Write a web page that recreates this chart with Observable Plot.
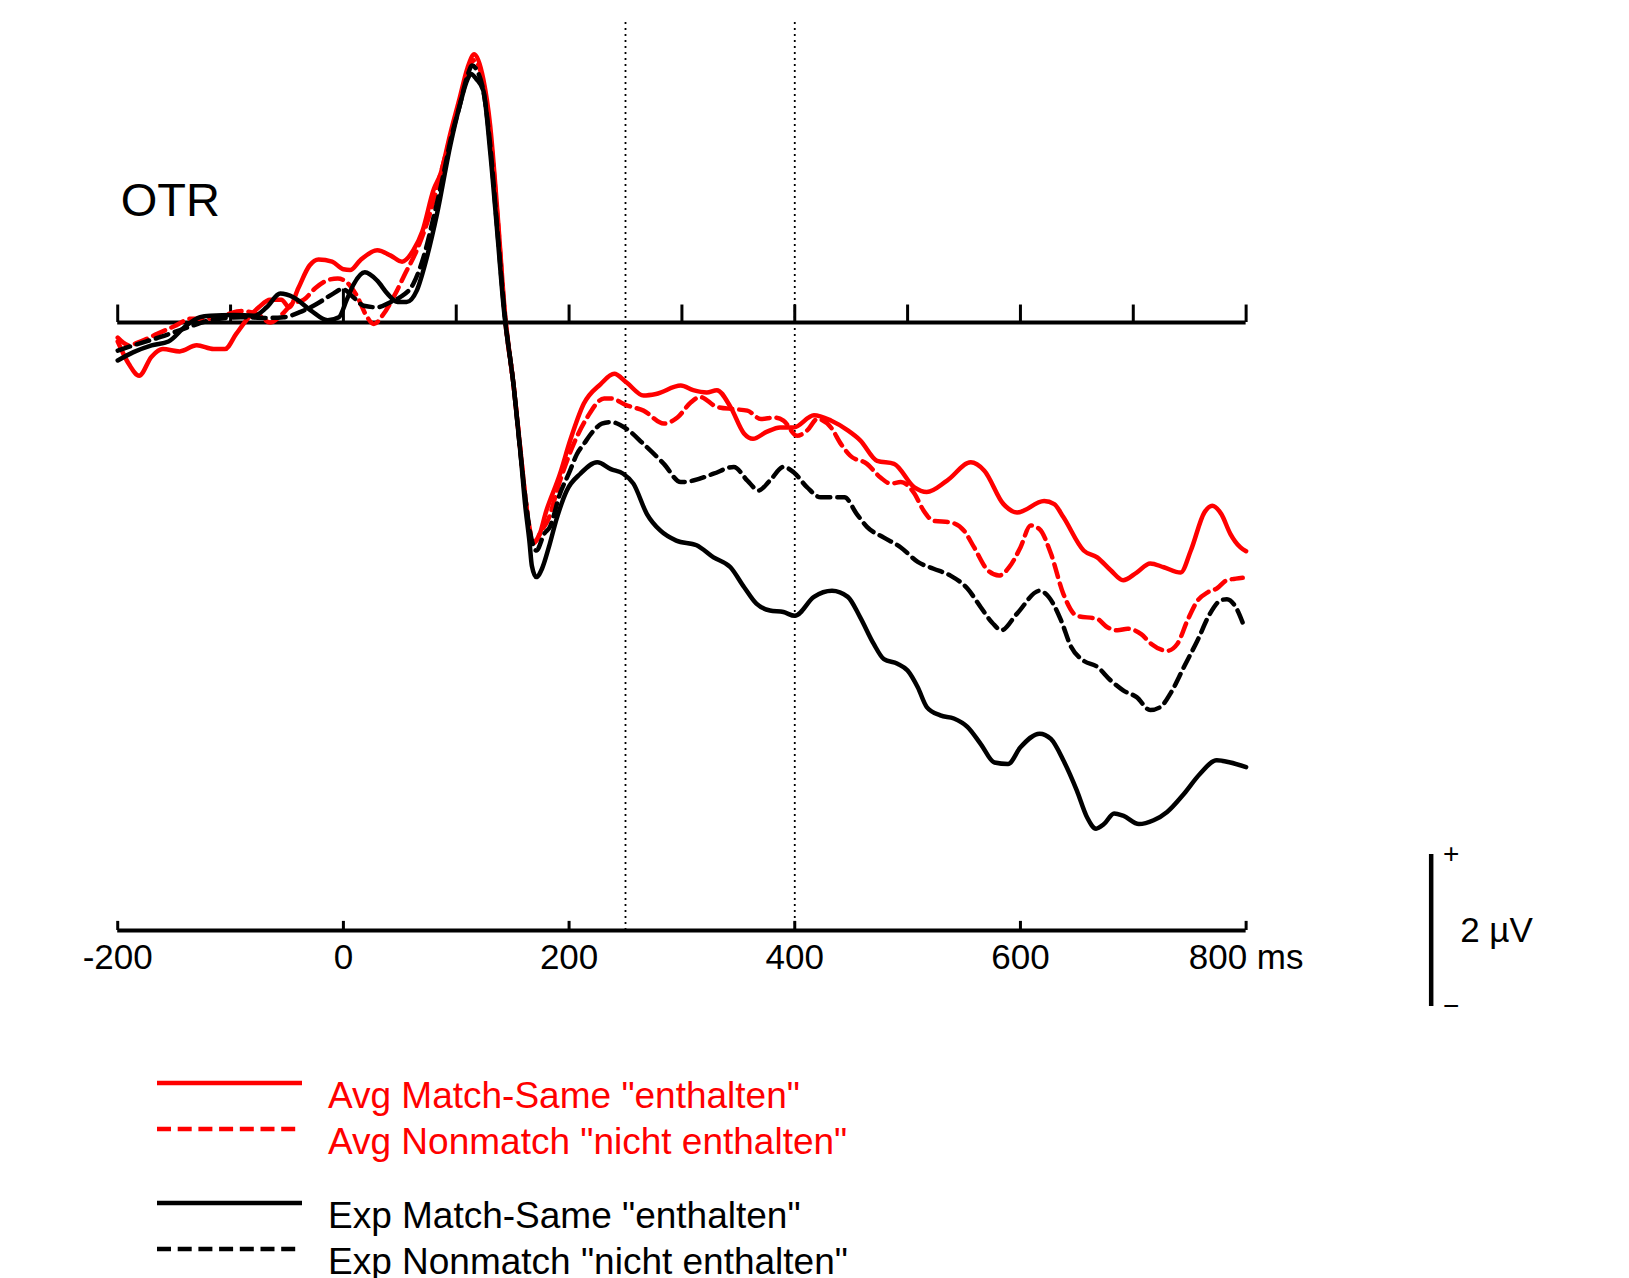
<!DOCTYPE html>
<html><head><meta charset="utf-8">
<script src="https://cdn.jsdelivr.net/npm/d3@7"></script>
<script src="https://cdn.jsdelivr.net/npm/@observablehq/plot@0.6"></script>
<style>
body{margin:0;background:#fff;font-family:"Liberation Sans",Arial,sans-serif;}
#chart svg,#legend svg{display:block}
</style></head><body>
<div id="chart"></div>
<div id="legend"></div>
<script>
// ---------- data (ms, µV) ----------
const avgMatchMs = [-200,-190,-181,-170,-160,-145,-130,-115,-105,-95,-85,-75,-65,-55,-48,-40,-30,-22,-10,0,6,15,30,42,52,62,70,80,86,95,103,110,116,124,130,137,143,151,157,162,167,172,180,192,201,213,228,240,251,266,277,299,310,322,331,343,355,363,375,387,399,417,432,447,458,473,488,506,517,535,556,568,585,597,621,630,638,656,668,680,691,703,715,727,742,751,763,770,778,786,795,800];
const avgMatchUv = [-0.25,-0.55,-0.70,-0.45,-0.35,-0.38,-0.30,-0.35,-0.35,-0.15,0.05,0.2,0.3,0.3,0.2,0.45,0.75,0.83,0.8,0.70,0.69,0.82,0.95,0.88,0.80,0.95,1.2,1.75,1.95,2.5,2.95,3.35,3.53,3.2,2.6,1.35,0.15,-0.85,-1.7,-2.4,-2.89,-2.85,-2.47,-1.99,-1.55,-1.07,-0.81,-0.675,-0.79,-0.96,-0.94,-0.83,-0.89,-0.92,-0.89,-1.11,-1.46,-1.53,-1.44,-1.38,-1.38,-1.22,-1.29,-1.42,-1.55,-1.82,-1.86,-2.17,-2.23,-2.08,-1.84,-1.95,-2.39,-2.50,-2.35,-2.39,-2.56,-3.00,-3.09,-3.26,-3.39,-3.29,-3.17,-3.22,-3.29,-3.00,-2.50,-2.41,-2.52,-2.78,-2.96,-3.01];

const avgNonMs = [-200,-190,-180,-165,-150,-135,-120,-105,-90,-75,-65,-55,-45,-35,-25,-15,-5,5,12,20,27,35,45,55,65,75,86,95,103,110,116,124,130,137,143,151,157,162,169,175,181,192,204,216,231,237,251,266,284,296,308,316,331,346,358,370,382,390,402,411,420,432,441,449,464,476,485,494,506,514,523,538,550,559,571,581,590,600,609,617,627,638,650,668,677,686,695,707,716,730,739,748,757,766,774,783,791,797];
const avgNonUv = [-0.2,-0.3,-0.25,-0.15,-0.05,0.05,0.05,0.1,0.15,0.1,0.0,0.1,0.25,0.3,0.45,0.55,0.58,0.5,0.35,0.1,-0.02,0.1,0.35,0.65,0.95,1.35,1.95,2.45,2.9,3.3,3.45,3.15,2.5,1.3,0.1,-0.85,-1.7,-2.4,-2.9,-2.75,-2.61,-2.08,-1.60,-1.25,-1.00,-1.00,-1.09,-1.16,-1.33,-1.25,-1.05,-0.98,-1.11,-1.14,-1.16,-1.27,-1.25,-1.29,-1.49,-1.42,-1.27,-1.38,-1.60,-1.75,-1.86,-2.04,-2.12,-2.10,-2.25,-2.47,-2.61,-2.63,-2.74,-2.96,-3.26,-3.33,-3.22,-2.96,-2.67,-2.72,-3.04,-3.57,-3.86,-3.90,-4.01,-4.05,-4.03,-4.10,-4.23,-4.32,-4.23,-3.92,-3.66,-3.55,-3.50,-3.39,-3.37,-3.36];

const expMatchMs = [-200,-186,-170,-155,-140,-127,-118,-97,-79,-68,-56,-44,-29,-14,-4,3,9,19,30,39,48,56,65,74,83,95,103,110,113,118,124,130,136,142,151,157,161,165,167,171,176,182,189,198,210,225,237,248,257,269,281,295,313,328,343,355,366,378,390,400,417,433,447,458,470,479,491,500,509,517,529,541,553,565,577,589,600,617,627,638,650,659,667,674,683,691,705,718,730,745,759,774,786,800];
const expMatchUv = [-0.5,-0.39,-0.3,-0.25,-0.05,0.07,0.09,0.1,0.09,0.2,0.38,0.33,0.16,0.03,0.07,0.3,0.5,0.66,0.55,0.38,0.27,0.27,0.42,0.86,1.43,2.35,2.85,3.2,3.27,3.2,3.05,2.26,1.25,0.2,-0.85,-1.73,-2.39,-2.9,-3.2,-3.35,-3.24,-2.96,-2.58,-2.21,-1.99,-1.84,-1.93,-1.99,-2.12,-2.52,-2.74,-2.87,-2.93,-3.09,-3.22,-3.48,-3.70,-3.79,-3.81,-3.86,-3.61,-3.53,-3.61,-3.88,-4.23,-4.43,-4.49,-4.58,-4.80,-5.06,-5.17,-5.21,-5.32,-5.55,-5.79,-5.81,-5.59,-5.41,-5.48,-5.76,-6.16,-6.51,-6.66,-6.60,-6.46,-6.49,-6.60,-6.55,-6.44,-6.20,-5.94,-5.76,-5.79,-5.85];

const expNonMs = [-200,-186,-162,-141,-118,-91,-68,-53,-38,-23,-9,-1,9,18,30,42,50,62,71,80,88,95,103,110,114,119,124,130,136,143,151,157,162,166,171,178,183,192,200,207,213,222,229,237,251,266,284,299,310,328,346,358,368,378,390,399,411,423,435,444,455,464,479,494,509,523,538,553,565,575,583,597,617,625,636,645,656,668,680,691,703,715,724,733,745,757,768,777,783,791,798];
const expNonUv = [-0.37,-0.30,-0.19,-0.08,0.03,0.07,0.06,0.07,0.14,0.25,0.38,0.44,0.33,0.22,0.2,0.27,0.33,0.51,0.86,1.39,1.9,2.4,2.85,3.25,3.38,3.3,3.05,2.35,1.3,0.1,-0.85,-1.73,-2.4,-2.8,-3.0,-2.78,-2.69,-2.25,-1.98,-1.73,-1.60,-1.42,-1.33,-1.31,-1.40,-1.60,-1.86,-2.10,-2.08,-1.99,-1.90,-2.08,-2.21,-2.08,-1.90,-1.97,-2.17,-2.30,-2.30,-2.30,-2.52,-2.69,-2.83,-2.96,-3.15,-3.24,-3.33,-3.50,-3.75,-3.95,-4.05,-3.83,-3.53,-3.61,-3.92,-4.27,-4.45,-4.53,-4.71,-4.84,-4.93,-5.10,-5.06,-4.88,-4.53,-4.18,-3.83,-3.66,-3.64,-3.75,-3.99];

const seriesNames = ['Avg Match-Same "enthalten"', 'Avg Nonmatch "nicht enthalten"', 'Exp Match-Same "enthalten"', 'Exp Nonmatch "nicht enthalten"'];
const seriesColors = ["#ff0000", "#ff0000", "#000000", "#000000"];
const seriesDashed = [false, true, false, true];

const topTicks = [-200,-100,0,100,200,300,400,500,600,700,800];
const bottomTicks = [-200,0,200,400,600,800];
const bottomTickLabels = ["-200","0","200","400","600","800 ms"];
const markerTimes = [250, 400];
const channelLabel = "OTR";
const scaleBarLabel = "2 µV";
const scaleBar = {ms: 964, from: -9, to: -7};

// ---------- layout ----------
const W = 1629, H = 1030;
const pxPerMs = 1.1284, pxPerUv = 76, zeroX = 342.9, zeroY = 322;
const marginLeft = zeroX - 200 * pxPerMs;
const marginRight = W - (marginLeft + 1300 * pxPerMs);
const yTop = zeroY / pxPerUv, yBottom = yTop - H / pxPerUv;

const seriesData = [
  avgMatchMs.map((t, i) => ({t, v: avgMatchUv[i]})),
  avgNonMs.map((t, i) => ({t, v: avgNonUv[i]})),
  expMatchMs.map((t, i) => ({t, v: expMatchUv[i]})),
  expNonMs.map((t, i) => ({t, v: expNonUv[i]}))
];

const dash = "13,7";
const lineMarks = seriesData.map((d, k) => Plot.line(d, {
  x: "t", y: "v", curve: "monotone-x",
  stroke: seriesColors[k], strokeWidth: 4.5,
  strokeDasharray: seriesDashed[k] ? dash : null,
  strokeLinejoin: "round"
}));

const chart = Plot.plot({
  width: W, height: H,
  marginLeft, marginRight, marginTop: 0, marginBottom: 0,
  x: {domain: [-200, 1100], axis: null},
  y: {domain: [yBottom, yTop], axis: null},
  style: {fontFamily: '"Liberation Sans", Arial, sans-serif', background: "#fff", overflow: "visible"},
  marks: [
    Plot.ruleX(markerTimes, {x: d => d, y1: -8, y2: 3.99, stroke: "#000", strokeWidth: 1.8, strokeDasharray: "2,4"}),
    Plot.ruleY([0], {x1: -200, x2: 800, stroke: "#000", strokeWidth: 4}),
    Plot.ruleX(topTicks, {x: d => d, y1: 0, y2: d => d === 0 ? 0.44 : 0.23, stroke: "#000", strokeWidth: 3}),
    Plot.ruleY([-8], {x1: -200, x2: 800, stroke: "#000", strokeWidth: 4}),
    Plot.ruleX(bottomTicks, {x: d => d, y1: -8, y2: -7.88, stroke: "#000", strokeWidth: 3}),
    Plot.text(bottomTicks, {x: d => d, y: -8, text: (d, i) => bottomTickLabels[i], dy: 38, lineAnchor: "bottom", textAnchor: "middle", fontSize: 35, fill: "#000"}),
    ...lineMarks,
    Plot.text([channelLabel], {frameAnchor: "top-left", dx: 3, dy: 215, lineAnchor: "bottom", textAnchor: "start", fontSize: 47, fill: "#000"}),
    Plot.ruleX([scaleBar], {x: "ms", y1: "from", y2: "to", stroke: "#000", strokeWidth: 4.5}),
    Plot.text([scaleBar], {x: "ms", y: "to", text: () => "+", dx: 20, lineAnchor: "middle", fontSize: 28, fill: "#000"}),
    Plot.text([scaleBar], {x: "ms", y: "from", text: () => "\u2212", dx: 20, lineAnchor: "middle", fontSize: 28, fill: "#000"}),
    Plot.text([scaleBar], {x: "ms", y: d => (d.from + d.to) / 2, text: () => scaleBarLabel, dx: 29, textAnchor: "start", lineAnchor: "middle", fontSize: 35, fill: "#000"})
  ]
});
document.getElementById("chart").appendChild(chart);

// ---------- legend (below the chart) ----------
const LH = 248;
const leg = d3.create("svg").attr("width", W).attr("height", LH)
  .style("font-family", '"Liberation Sans", Arial, sans-serif');
const rowLineY = [53, 99, 173, 219];
seriesNames.forEach((name, k) => {
  leg.append("line")
    .attr("x1", 157).attr("x2", seriesDashed[k] ? 297 : 302)
    .attr("y1", rowLineY[k]).attr("y2", rowLineY[k])
    .attr("stroke", seriesColors[k]).attr("stroke-width", 4.5)
    .attr("stroke-dasharray", seriesDashed[k] ? "14,6.7" : null);
  leg.append("text")
    .attr("x", 328).attr("y", rowLineY[k] + 25)
    .attr("fill", seriesColors[k]).attr("font-size", 37)
    .text(name);
});
document.getElementById("legend").appendChild(leg.node());
</script>
</body></html>
